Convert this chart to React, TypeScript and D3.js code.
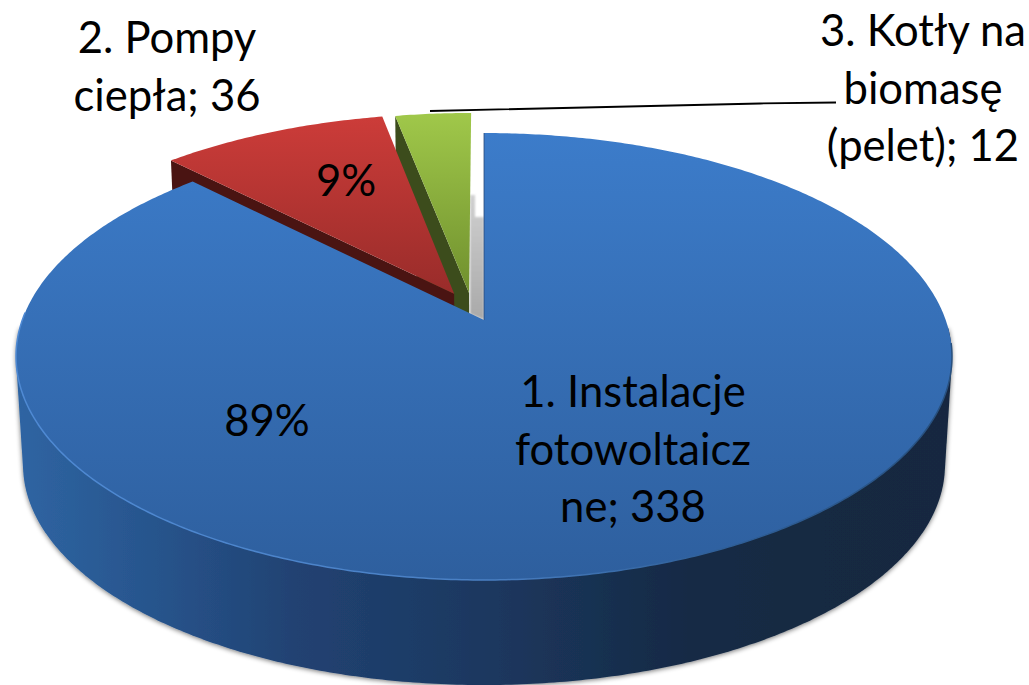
import * as d3 from "d3";

const categories = ["1. Instalacje fotowoltaiczne", "2. Pompy ciepła", "3. Kotły na biomasę (pelet)"];
const values = [338, 36, 12];
const percentLabels = ["89%", "9%", ""];
const explode = [[0, 0], [-0.066, -0.123], [-0.033, -0.127]];

const topColors = [["#3c7cca", "#2e5f9e"], ["#cc3c39", "#992c2a"], ["#a0c84a", "#70902e"]];
const wallColors = ["", "#4a1412", "#3c4c1c"];

const width = 1029;
const height = 685;

// pie is seen in perspective: disk coords (u, v) -> screen
const apex = { x: 484, y: 320 };
const persp = -0.1633;
const scaleX = 461.7;
const scaleY = 217.5;
const depth = 109;
const bottomScale = 0.985;

function project(u: number, v: number, bottom = false) {
  const s = bottom ? bottomScale : 1;
  const w = 1 + persp * v;
  return [
    apex.x + (s * scaleX * u) / w,
    apex.y + (bottom ? depth : 0) + (s * scaleY * v) / w,
  ] as [number, number];
}

const rim = (t: number, off: number[], bottom = false) =>
  project(Math.sin(t) + off[0], -Math.cos(t) + off[1], bottom);

const arcAngles = (a0: number, a1: number) => {
  const n = Math.max(8, Math.ceil((a1 - a0) / 0.01));
  return d3.range(n + 1).map(i => a0 + ((a1 - a0) * i) / n);
};

const line = d3.line();
const rad = (deg: number) => (deg * Math.PI) / 180;

const pie = d3.pie<number>().sort(null).value(d => d);
const slices = pie(values);

function topPath(i: number) {
  const s = slices[i];
  const off = explode[i];
  const pts = [project(off[0], off[1]), ...arcAngles(s.startAngle, s.endAngle).map(t => rim(t, off))];
  return line(pts) + "Z";
}

// only the front of the drum can be seen, its outline is a convex hull
function frontWall() {
  const angles = arcAngles(rad(92), rad(268));
  const pts = [...angles.map(t => rim(t, [0, 0])), ...angles.map(t => rim(t, [0, 0], true))];
  return line(d3.polygonHull(pts) ?? []) + "Z";
}

function cutWall(i: number) {
  const t = slices[i].startAngle;
  const off = explode[i];
  return line([
    project(off[0], off[1]),
    rim(t, off),
    rim(t, off, true),
    project(off[0], off[1], true),
  ]) + "Z";
}

const frontRim = line(arcAngles(rad(96), rad(272)).map(t => rim(t, [0, 0]))) ?? "";

const labelLines = [
  { x: 633, lines: ["1. Instalacje", "fotowoltaicz", "ne; 338"], y: 407 },
  { x: 167, lines: ["2. Pompy", "ciepła; 36"], y: 53 },
  { x: 923, lines: ["3. Kotły na", "biomasę", "(pelet); 12"], y: 46 },
];
const percentPos = [[267, 436], [346, 196]];
const lineStep = 57.5;
const font = "Lato, 'Open Sans', sans-serif";

export default function App() {
  return (
    <svg
      width={width}
      height={height}
      viewBox={`0 0 ${width} ${height}`}
      style={{ position: "absolute", left: 0, top: 0, display: "block", background: "#fff" }}
      aria-label={categories.join(", ")}
    >
      <defs>
        {topColors.map((c, i) => (
          <linearGradient key={i} id={`top${i}`} x1="0" y1="0" x2="0" y2="1">
            <stop offset="0" stopColor={c[0]} />
            <stop offset="1" stopColor={c[1]} />
          </linearGradient>
        ))}
        <linearGradient id="wall" gradientUnits="userSpaceOnUse" x1="15" y1="0" x2="950" y2="0">
          <stop offset="0" stopColor="#2f65a3" />
          <stop offset="0.15" stopColor="#27548c" />
          <stop offset="0.3" stopColor="#214272" />
          <stop offset="0.5" stopColor="#1c3860" />
          <stop offset="0.72" stopColor="#162a45" />
          <stop offset="1" stopColor="#15283f" />
        </linearGradient>
        <linearGradient id="rimStroke" gradientUnits="userSpaceOnUse" x1="15" y1="0" x2="950" y2="0">
          <stop offset="0" stopColor="#4f8ad4" />
          <stop offset="0.5" stopColor="#4a80c4" />
          <stop offset="0.75" stopColor="#2f5f98" />
          <stop offset="1" stopColor="#27507f" />
        </linearGradient>
        <linearGradient id="gray" x1="0" y1="0" x2="0" y2="1">
          <stop offset="0" stopColor="#d0d0d0" />
          <stop offset="1" stopColor="#a9a9a9" />
        </linearGradient>
        <filter id="soft" x="-20%" y="-5%" width="140%" height="110%">
          <feGaussianBlur stdDeviation="0.8" />
        </filter>
        <filter id="shadow" x="-5%" y="-5%" width="110%" height="115%">
          <feGaussianBlur in="SourceAlpha" stdDeviation="2.5" />
          <feOffset dx="0" dy="1" />
          <feComponentTransfer>
            <feFuncA type="linear" slope="0.55" />
          </feComponentTransfer>
          <feMerge>
            <feMergeNode />
            <feMergeNode in="SourceGraphic" />
          </feMerge>
        </filter>
      </defs>

      {/* shadow in the gap behind the exploded slices */}
      <path
        d={line([[470, 195], [475, 195], [475, 217], [484, 217], [484, 320], [470, 314]]) + "Z"}
        fill="url(#gray)"
        filter="url(#soft)"
      />

      {/* back slices first, blue goes over them */}
      <path d={cutWall(2)} fill={wallColors[2]} />
      <path d={topPath(2)} fill="url(#top2)" />
      <path d={cutWall(1)} fill={wallColors[1]} />
      <path d={topPath(1)} fill="url(#top1)" />

      <path d={frontWall()} fill="url(#wall)" filter="url(#shadow)" />
      <path d={topPath(0)} fill="url(#top0)" />
      <path d={frontRim} fill="none" stroke="url(#rimStroke)" strokeWidth={1.5} />
      <path d={line([project(0, 0), rim(0, [0, 0])]) ?? ""} fill="none" stroke="#2a4a78" strokeWidth={0.8} />

      {/* leader line for the third label */}
      <path d={line([[430, 111], [760, 103.5], [836, 102.5]]) ?? ""} fill="none" stroke="#000" strokeWidth={1.8} />

      <g fontFamily={font} fontSize={43.6} fill="#000" textAnchor="middle">
        {labelLines.map(l =>
          l.lines.map((t, i) => (
            <text key={t} x={l.x} y={l.y + i * lineStep}>
              {t}
            </text>
          ))
        )}
        {percentLabels.map((p, i) =>
          p ? (
            <text key={p} x={percentPos[i][0]} y={percentPos[i][1]}>
              {p}
            </text>
          ) : null
        )}
      </g>
    </svg>
  );
}
